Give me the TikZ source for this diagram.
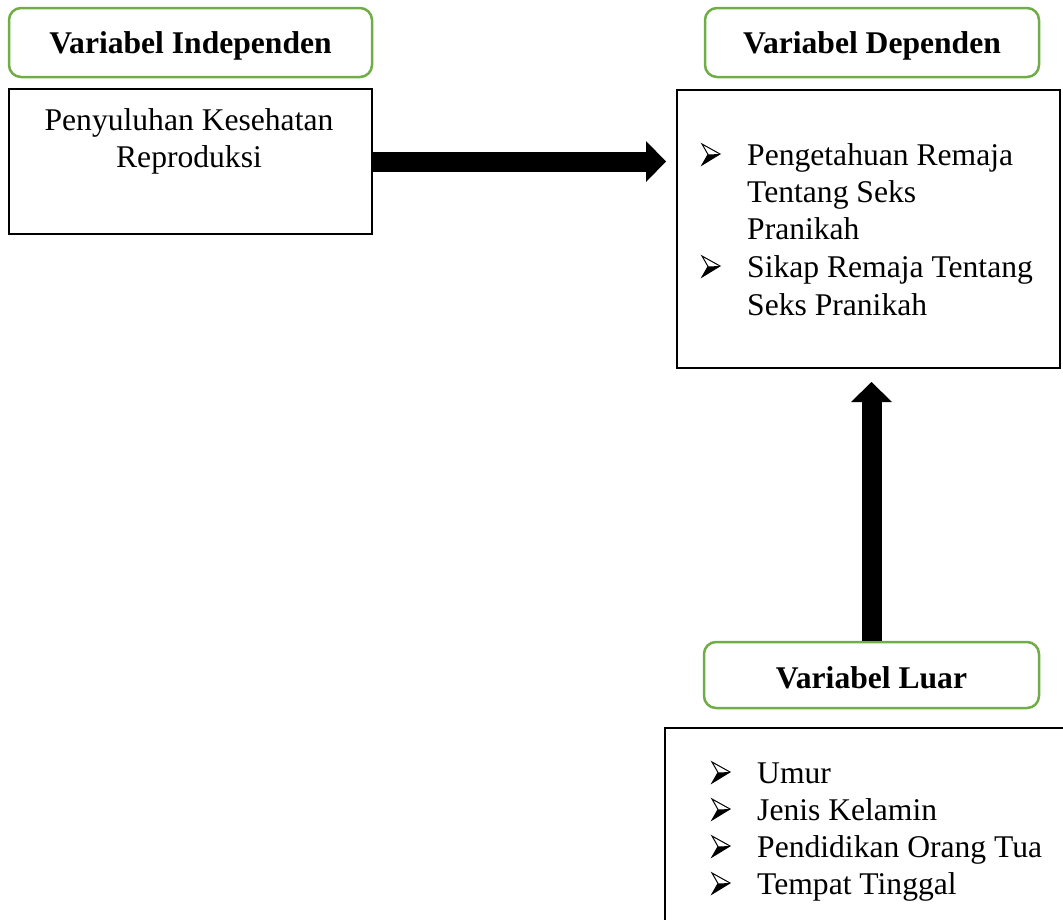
\documentclass[tikz,border=0pt]{standalone}
\usepackage{fontspec}
\setmainfont{Liberation Serif}
\usetikzlibrary{arrows.meta,calc}
\definecolor{bordergreen}{HTML}{70AD47}
\begin{document}
\begin{tikzpicture}[x=1pt,y=-1pt,
  titlebox/.style={draw=bordergreen,line width=2.5pt,rounded corners=12pt,inner sep=0pt},
  plainbox/.style={draw=black,line width=2pt,inner sep=0pt},
  titletext/.style={font=\fontsize{31.6}{37}\selectfont\bfseries,inner sep=0pt,anchor=base},
  bodytext/.style={font=\fontsize{31.6}{37}\selectfont,inner sep=0pt},
  bigarrow/.style={line width=20pt,-{Triangle[length=20pt,width=41pt,line width=0pt]}},
  bul/.pic={
    \fill[black] (0,0) -- (18,-11) -- (6,-10.5) -- cycle;
    \draw[line width=1pt,line join=miter] (0,0) -- (18,-11) -- (0,-21) -- (6,-10.5) -- cycle;
  }]
\useasboundingbox (0,0) rectangle (1063,919);
% left column
\node[titlebox,minimum width=363pt,minimum height=69pt] (inT) at (190.5,42.5) {};
\node[titletext] (inTt) at (190.5,53) {Variabel Independen};
\node[plainbox,minimum width=363pt,minimum height=145pt] (in) at (190.5,161.5) {};
\node[bodytext,anchor=base] (in1) at (189,130) {Penyuluhan Kesehatan};
\node[bodytext,anchor=base] (in2) at (189,167) {Reproduksi};
% dependent
\node[titlebox,minimum width=334pt,minimum height=69pt] (depT) at (872,42.5) {};
\node[titletext] (depTt) at (872,53) {Variabel Dependen};
\node[plainbox,minimum width=383pt,minimum height=278pt] (dep) at (868.5,229) {};
\pic at (702,165) {bul};
\pic at (702,277) {bul};
\node[bodytext,anchor=base west] (d1) at (747,165) {Pengetahuan Remaja};
\node[bodytext,anchor=base west] (d2) at (747,202) {Tentang Seks};
\node[bodytext,anchor=base west] (d3) at (747,239) {Pranikah};
\node[bodytext,anchor=base west] (d4) at (747,277) {Sikap Remaja Tentang};
\node[bodytext,anchor=base west] (d5) at (747,315) {Seks Pranikah};
% luar
\node[titlebox,minimum width=335pt,minimum height=66pt] (luarT) at (871.5,675) {};
\node[titletext] (luarTt) at (871.5,688) {Variabel Luar};
\node[plainbox,minimum width=415pt,minimum height=212pt] (luar) at (872.5,834) {};
\pic at (712,783) {bul};
\pic at (712,820) {bul};
\pic at (712,857) {bul};
\pic at (712,894) {bul};
\node[bodytext,anchor=base west] (l1) at (757,783) {Umur};
\node[bodytext,anchor=base west] (l2) at (757,820) {Jenis Kelamin};
\node[bodytext,anchor=base west] (l3) at (757,857) {Pendidikan Orang Tua};
\node[bodytext,anchor=base west] (l4) at (757,894) {Tempat Tinggal};
% arrows
\draw[bigarrow] (in.east) -- ($(in.east -| dep.west)+(-10,0)$);
\draw[bigarrow] (luarT.north) -- ($(luarT.north |- dep.south)+(0,13)$);
\end{tikzpicture}
\end{document}
